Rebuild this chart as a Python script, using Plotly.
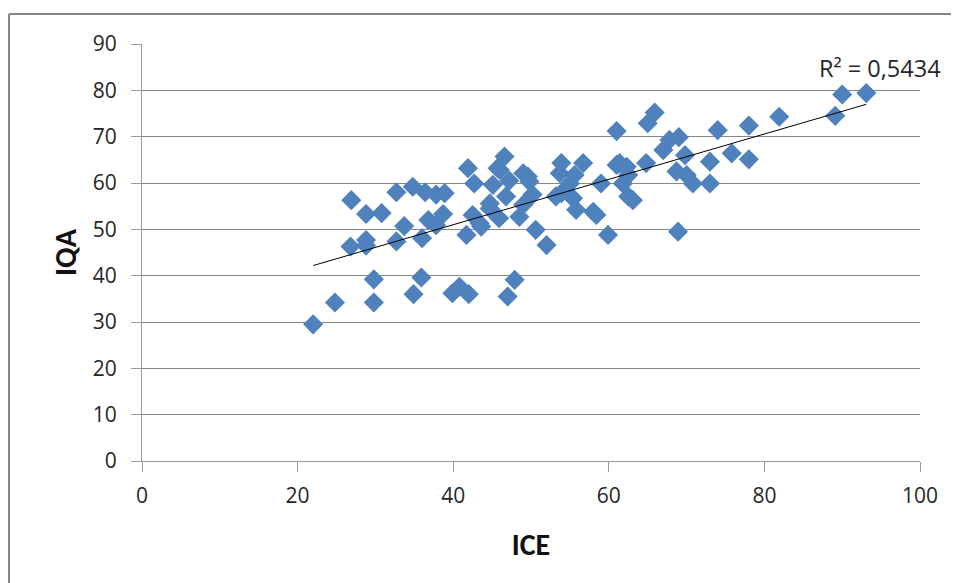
import numpy as np
import plotly.graph_objects as go

ice = [22.0, 24.8, 26.9, 26.8, 28.8, 28.8, 28.8, 29.8, 29.8, 30.8,
       32.7, 32.7, 33.7, 34.8, 34.9, 35.9, 36.0, 36.4, 36.8, 37.8,
       37.8, 38.7, 38.9, 39.9, 40.8, 42.0, 41.9, 42.7, 41.7, 42.5,
       43.4, 44.7, 45.1, 45.7, 46.6, 46.8, 45.9, 44.7, 47.9, 47.0,
       48.5, 49.0, 49.6, 49.8, 49.0, 50.6, 52.0, 53.2, 53.9, 53.7,
       55.0, 53.9, 55.4, 55.8, 56.7, 58.0, 58.4, 59.0, 59.9, 61.0,
       61.4, 61.8, 62.5, 63.1, 62.5, 62.3, 64.8, 61.0, 65.0, 65.9,
       67.0, 67.8, 69.0, 68.7, 69.8, 70.0, 70.8, 73.0, 73.0, 68.9,
       74.0, 75.8, 78.0, 78.0, 81.9, 89.1, 90.0, 93.1, 43.6, 46.0,
       47.2, 50.2, 55.6]
iqa = [29.5, 34.2, 56.3, 46.3, 47.7, 46.5, 53.3, 39.2, 34.2, 53.5,
       58.0, 47.4, 50.7, 59.2, 36.0, 39.6, 48.1, 58.0, 52.0, 57.5,
       50.9, 53.3, 57.8, 36.2, 37.6, 36.0, 63.2, 59.9, 48.8, 53.1,
       51.3, 54.5, 59.6, 63.2, 65.7, 57.1, 52.4, 55.6, 39.1, 35.5,
       52.7, 55.3, 61.4, 60.3, 62.1, 49.9, 46.6, 57.1, 64.3, 62.1,
       59.9, 57.8, 56.7, 54.2, 64.3, 53.8, 53.1, 59.9, 48.8, 63.9,
       64.3, 59.9, 57.1, 56.3, 61.7, 63.5, 64.3, 71.2, 72.9, 75.2,
       67.1, 69.3, 69.9, 62.5, 66.0, 61.7, 59.9, 59.9, 64.6, 49.5,
       71.4, 66.4, 65.1, 72.4, 74.3, 74.5, 79.1, 79.4, 50.6, 62.8,
       60.5, 57.5, 61.7]

r2_label = "R² = 0,5434"
x_ticks = [0, 20, 40, 60, 80, 100]
y_ticks = [0, 10, 20, 30, 40, 50, 60, 70, 80, 90]

slope, intercept = np.polyfit(ice, iqa, 1)
xfit = np.array([min(ice), max(ice)])
yfit = slope * xfit + intercept

font = "'Open Sans', sans-serif"
title_font = "Carlito, Calibri, 'Open Sans', sans-serif"

# plot area in figure pixels (page adds 8px body margin)
L, T, R, B = 134, 36, 39, 122
W, H = 951, 575
pw, ph = W - L - R, H - T - B

fig = go.Figure()
fig.add_trace(go.Scatter(x=ice, y=iqa, mode="markers",
                         marker=dict(symbol="diamond", size=15.5, color="#4F81BD",
                                     line=dict(width=0)),
                         hoverinfo="x+y", showlegend=False))
fig.add_trace(go.Scatter(x=xfit, y=yfit, mode="lines",
                         line=dict(color="black", width=1),
                         hoverinfo="skip", showlegend=False))

fig.add_annotation(xref="paper", yref="paper", x=(943 - 8 - L) / pw,
                   y=(461 - 68) / 417,
                   text=r2_label, showarrow=False,
                   xanchor="right", yanchor="middle",
                   font=dict(family=font, size=23.5, color="#262626"))

fig.update_layout(
    width=W, height=H,
    margin=dict(l=L, r=R, t=T, b=B),
    paper_bgcolor="white", plot_bgcolor="white",
    font=dict(family=font, size=21, color="#262626"),
    xaxis=dict(range=[0, 100], tickvals=x_ticks, showgrid=False,
               showline=True, linecolor="#9a9a9a", linewidth=1,
               ticks="outside", ticklen=10, tickcolor="#9a9a9a",
               zeroline=False, tickfont=dict(size=21), ticklabelstandoff=6,
               title=dict(text="<b>ICE</b>", font=dict(family=title_font, size=30, color="#111"),
                          standoff=25)),
    yaxis=dict(range=[0, 90], tickvals=y_ticks, showgrid=True,
               gridcolor="#878787", gridwidth=1,
               showline=True, linecolor="#9a9a9a", linewidth=1,
               ticks="outside", ticklen=10, tickcolor="#9a9a9a",
               zeroline=False, tickfont=dict(size=21), ticklabelstandoff=10,
               title=dict(text="<b>IQA</b>", font=dict(family=title_font, size=30, color="#111"),
                          standoff=7)),
)

# outer chart frame (top and left edges visible in the picture)
frame = dict(color="#868686", width=2)
fig.add_shape(type="line", xref="paper", yref="paper",
              x0=(1 - L) / pw, x1=(W + 50 - L) / pw,
              y0=1 + (T - 6) / ph, y1=1 + (T - 6) / ph, line=frame)
fig.add_shape(type="line", xref="paper", yref="paper",
              x0=(1 - L) / pw, x1=(1 - L) / pw,
              y0=1 + (T - 6) / ph, y1=-(B + 50) / ph, line=frame)

fig.write_html("out.html")
